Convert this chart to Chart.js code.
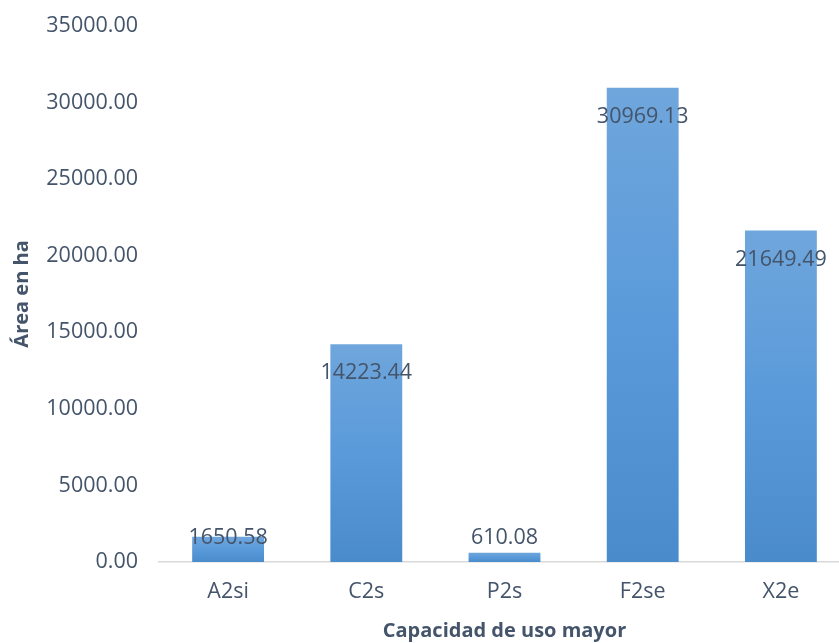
<!DOCTYPE html>
<html>
<head>
<meta charset="utf-8">
<script src="https://cdn.jsdelivr.net/npm/chart.js@4/dist/chart.umd.min.js"></script>
<style>
html,body{margin:0;padding:0;background:#fff;overflow:hidden;width:839px;height:643px;}
canvas{display:block;}
</style>
</head>
<body>
<canvas id="c" width="850" height="643"></canvas>
<script>
const categories = ['A2si', 'C2s', 'P2s', 'F2se', 'X2e'];
const areaValues = [1650.58, 14223.44, 610.08, 30969.13, 21649.49];
const yTickMin = 0, yTickMax = 35000, yTickStep = 5000;
const yTitle = 'Área en ha';
const xTitle = 'Capacidad de uso mayor';

const FONT = "'Open Sans', 'Noto Sans', sans-serif";
const TEXT = '#44546A';

function barGradient(ctx) {
  const chart = ctx.chart;
  const area = chart.chartArea;
  if (!area || ctx.dataIndex === undefined) return '#5B9BD5';
  const y = chart.scales.y;
  const top = y.getPixelForValue(ctx.raw);
  const base = y.getPixelForValue(0);
  if (!isFinite(top) || !isFinite(base) || top === base) return '#5B9BD5';
  const g = chart.ctx.createLinearGradient(0, top, 0, base);
  g.addColorStop(0, '#6FA6DC');
  g.addColorStop(0.5, '#5A9ADA');
  g.addColorStop(1, '#4A8BCB');
  return g;
}

const labelPlugin = {
  id: 'insideEndLabels',
  afterDatasetsDraw(chart) {
    const c = chart.ctx;
    const meta = chart.getDatasetMeta(0);
    const base = chart.scales.y.getPixelForValue(0);
    c.save();
    c.font = "21.5px " + FONT;
    c.fillStyle = TEXT;
    c.textAlign = 'center';
    c.textBaseline = 'middle';
    meta.data.forEach((bar, i) => {
      const y = Math.min(bar.y + 29, base - 24);
      c.fillText(areaValues[i].toFixed(2), bar.x, y);
    });
    c.restore();
  }
};

new Chart(document.getElementById('c'), {
  type: 'bar',
  data: {
    labels: categories,
    datasets: [{
      data: areaValues,
      backgroundColor: barGradient,
      borderWidth: 0,
      categoryPercentage: 1,
      barPercentage: 0.52
    }]
  },
  options: {
    responsive: false,
    animation: false,
    devicePixelRatio: 1,
    layout: { padding: { top: 9, right: 0, left: 0, bottom: 0 } },
    plugins: { legend: { display: false }, tooltip: { enabled: false } },
    scales: {
      y: {
        min: yTickMin, max: yTickMax,
        ticks: {
          stepSize: yTickStep,
          padding: 13,
          color: TEXT,
          font: { family: FONT, size: 21.5 },
          callback: v => Number(v).toFixed(2)
        },
        grid: { display: false },
        border: { display: false },
        title: {
          display: true, text: yTitle, color: TEXT,
          font: { family: FONT, size: 20, weight: 'bold' },
          padding: { top: 10, bottom: 0 }
        },
        afterFit: s => { s.width = 159; }
      },
      x: {
        ticks: {
          padding: 17,
          color: TEXT,
          font: { family: FONT, size: 21.5 }
        },
        grid: { display: false, drawTicks: false },
        border: { display: true, color: '#D9D9D9', width: 1.5 },
        title: {
          display: true, text: xTitle, color: TEXT,
          font: { family: FONT, size: 20, weight: 'bold' },
          padding: { top: 10, bottom: 0 }
        },
        afterFit: s => { s.height = 81; }
      }
    }
  },
  plugins: [labelPlugin]
});
</script>
</body>
</html>
